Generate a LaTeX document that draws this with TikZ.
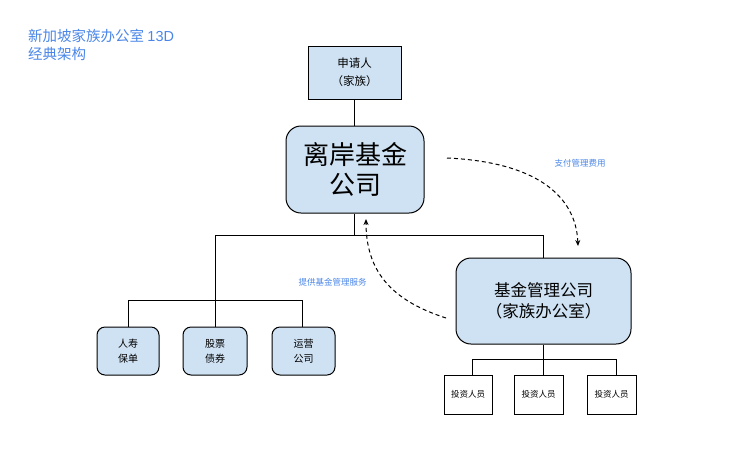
\documentclass[tikz,border=0pt]{standalone}
\usepackage{fontspec}
\setmainfont{Noto Sans CJK SC}
\newfontfamily\latinsans{Liberation Sans}
\usetikzlibrary{arrows.meta}
\definecolor{boxfill}{HTML}{CFE2F3}
\definecolor{labelblue}{HTML}{4A86E8}
\tikzset{
  x=1pt, y=-1pt,
  box/.style={draw=black, line width=1pt, fill=boxfill, align=center, inner sep=0pt},
  sqbox/.style={box},
  rbox/.style={box, rounded corners=#1},
  wbox/.style={draw=black, line width=1pt, fill=white, align=center, inner sep=0pt},
  conn/.style={draw=black, line width=1pt},
  dasharrow/.style={draw=black, line width=1pt, dash pattern=on 4pt off 3pt, -{Stealth[length=6pt,width=5pt]}},
  lbl/.style={text=labelblue, inner sep=0pt, font=\fontsize{8.5}{10}\selectfont},
}
\begin{document}
\begin{tikzpicture}
\useasboundingbox (0,0) rectangle (733,475);
% title
\node[anchor=north west, text=labelblue, align=left, inner sep=0pt, font=\fontsize{14.5}{18}\selectfont] (title) at (28,29) {新加坡家族办公室 {\latinsans 13D}\\经典架构};
% nodes
\node[sqbox, minimum width=93pt, minimum height=53pt, font=\fontsize{11.5}{18}\selectfont] (app) at (354.5,72.5) {申请人\\（家族）};
\node[rbox=15pt, minimum width=138pt, minimum height=87pt, font=\fontsize{26}{30}\selectfont] (off) at (355,169.5) {离岸基金\\公司};
\node[rbox=8pt, minimum width=62pt, minimum height=48pt, font=\fontsize{10}{15}\selectfont] (life) at (128,351) {人寿\\保单};
\node[rbox=8pt, minimum width=64pt, minimum height=48pt, font=\fontsize{10}{15}\selectfont] (stock) at (215,351) {股票\\债券};
\node[rbox=8pt, minimum width=63pt, minimum height=48pt, font=\fontsize{10}{15}\selectfont] (ops) at (303.5,351) {运营\\公司};
\node[rbox=15pt, minimum width=175pt, minimum height=86pt, font=\fontsize{16.5}{20.5}\selectfont] (fmc) at (543.5,301) {基金管理公司\\（家族办公室）};
\node[wbox, minimum width=48pt, minimum height=39pt, font=\fontsize{8.5}{10}\selectfont] (inv1) at (468,394.5) {投资人员};
\node[wbox, minimum width=49pt, minimum height=39pt, font=\fontsize{8.5}{10}\selectfont] (inv2) at (538.5,394.5) {投资人员};
\node[wbox, minimum width=49pt, minimum height=39pt, font=\fontsize{8.5}{10}\selectfont] (inv3) at (611.5,394.5) {投资人员};
% junction coordinates
\coordinate (jtop) at (354,235);
\coordinate (jl) at (215,235);
\coordinate (jr) at (543,235);
\coordinate (jlb) at (215,300);
\coordinate (jl1) at (128,300);
\coordinate (jl3) at (302,300);
\coordinate (jfb) at (543,359);
\coordinate (ji1) at (472,359);
\coordinate (ji3) at (616,359);
% connectors
\draw[conn] (app.south -| jtop) -- (off.north -| jtop);
\draw[conn] (off.south -| jtop) -- (jtop);
\draw[conn] (jl) -- (jr);
\draw[conn] (jr) -- (fmc.north -| jr);
\draw[conn] (jl) -- (jlb);
\draw[conn] (jl1) -- (jl3);
\draw[conn] (jl1) -- (life.north -| jl1);
\draw[conn] (jlb) -- (stock.north -| jlb);
\draw[conn] (jl3) -- (ops.north -| jl3);
\draw[conn] (fmc.south -| jfb) -- (jfb);
\draw[conn] (ji1) -- (ji3);
\draw[conn] (ji1) -- (inv1.north -| ji1);
\draw[conn] (jfb) -- (inv2.north -| jfb);
\draw[conn] (ji3) -- (inv3.north -| ji3);
% dashed arrows
\coordinate (a1s) at (447,158);
\coordinate (a1e) at (578,246);
\coordinate (a2s) at (446,318);
\coordinate (a2e) at (366,219);
\draw[dasharrow] (a1s) .. controls (535,162) and (576,195) .. (a1e);
\draw[dasharrow] (a2s) .. controls (390,300) and (366,270) .. (a2e);
% labels
\node[lbl] (l1) at (580,163) {支付管理费用};
\node[lbl] (l2) at (332.5,282) {提供基金管理服务};
\end{tikzpicture}
\end{document}
